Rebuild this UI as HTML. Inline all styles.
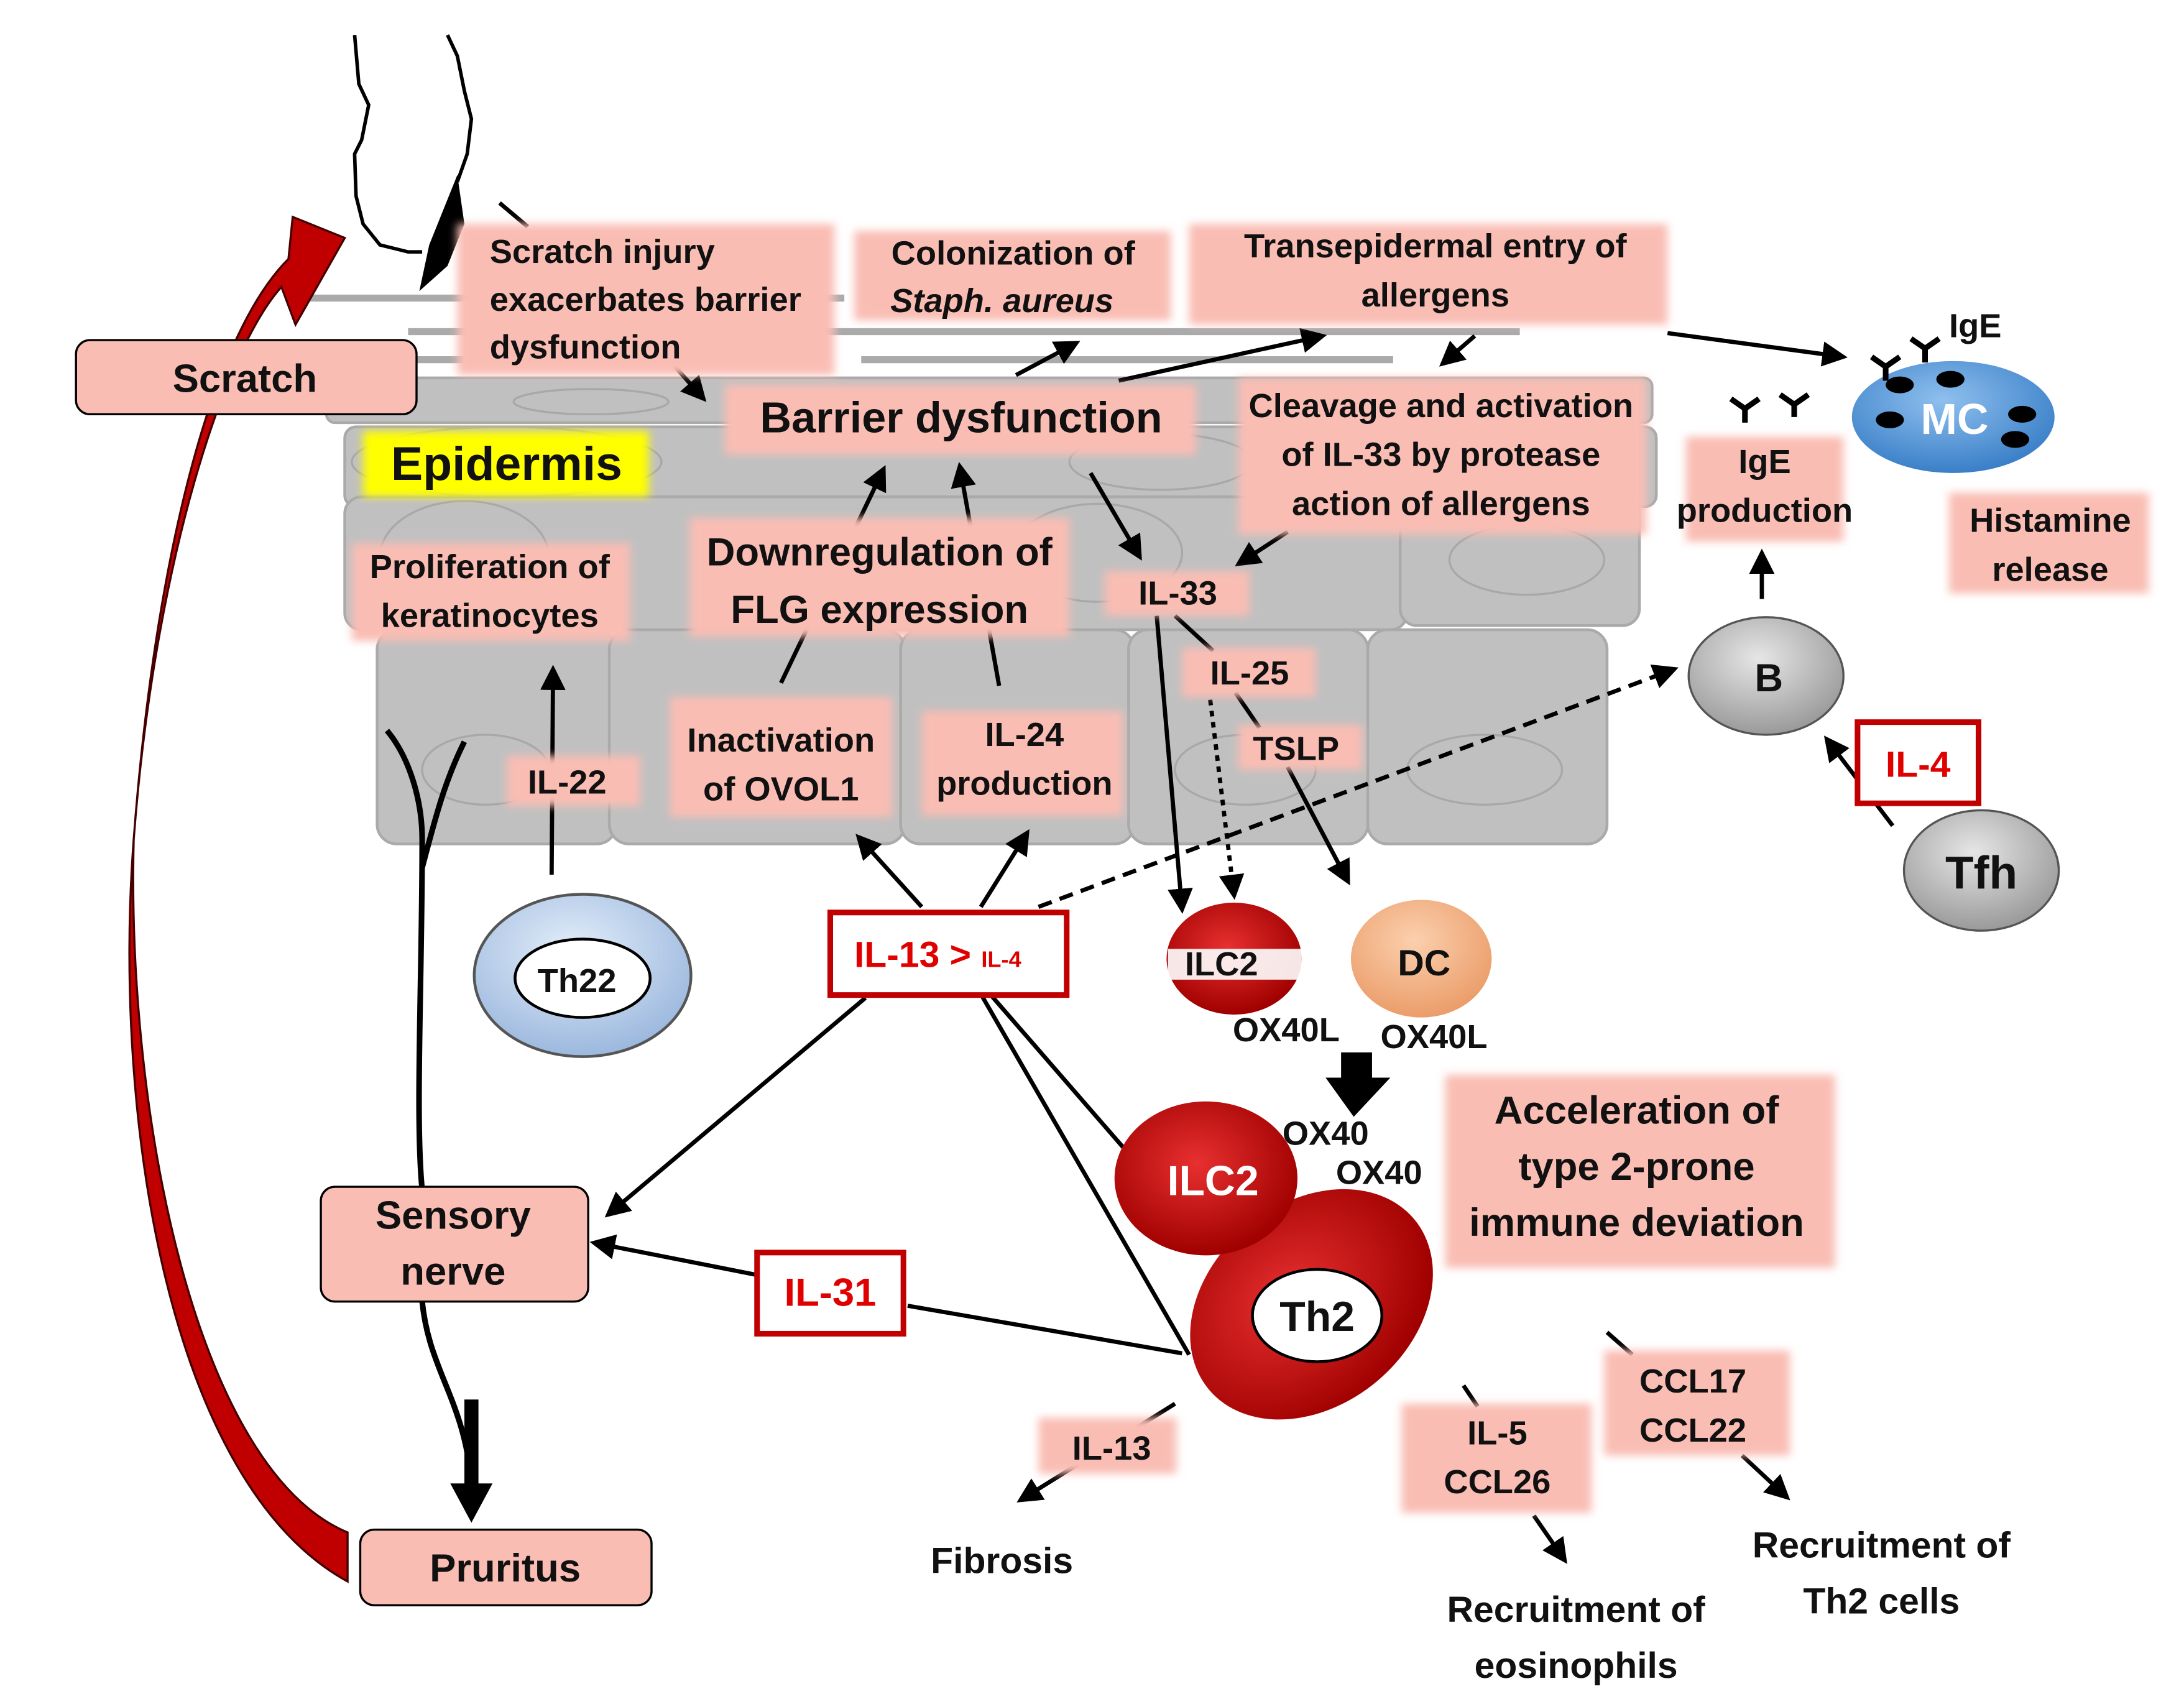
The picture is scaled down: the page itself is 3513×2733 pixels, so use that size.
<!DOCTYPE html>
<html><head><meta charset="utf-8"><style>
html,body{margin:0;padding:0;background:#fff;}
svg{display:block;}
text{font-family:"Liberation Sans Narrow","Liberation Sans",sans-serif;font-weight:bold;fill:#111;}
</style></head><body>
<svg width="3513" height="2733" viewBox="0 0 1552 1214" preserveAspectRatio="none" xmlns="http://www.w3.org/2000/svg">
<defs>
<marker id="ah" markerWidth="6" markerHeight="6" refX="5" refY="3" orient="auto" markerUnits="strokeWidth"><path d="M0,0 L6,3 L0,6 z" fill="#000"/></marker>
<filter id="bl" x="-10%" y="-10%" width="120%" height="120%"><feGaussianBlur stdDeviation="3"/></filter>
<radialGradient id="red" cx="45%" cy="40%" r="60%"><stop offset="0" stop-color="#e83030"/><stop offset="1" stop-color="#a00000"/></radialGradient>
<radialGradient id="gry" cx="45%" cy="35%" r="65%"><stop offset="0" stop-color="#e6e6e6"/><stop offset="1" stop-color="#9a9a9a"/></radialGradient>
<radialGradient id="blu" cx="45%" cy="35%" r="65%"><stop offset="0" stop-color="#8fc0ee"/><stop offset="1" stop-color="#3a7fc8"/></radialGradient>
<radialGradient id="lb" cx="45%" cy="35%" r="65%"><stop offset="0" stop-color="#e3eefa"/><stop offset="1" stop-color="#9cb8de"/></radialGradient>
<radialGradient id="dc" cx="45%" cy="35%" r="65%"><stop offset="0" stop-color="#fbd0ae"/><stop offset="1" stop-color="#eb9d6a"/></radialGradient>
</defs>

<g stroke="#aaa" stroke-width="5">
<line x1="220" y1="213" x2="600" y2="213"/>
<line x1="290" y1="237" x2="1080" y2="237"/>
<line x1="290" y1="257" x2="330" y2="257"/>
<line x1="612" y1="257" x2="990" y2="257"/>
</g>
<g fill="#c0c0c0" stroke="#aaa" stroke-width="2">
<rect x="232" y="270" width="942" height="32" rx="6"/>
<rect x="245" y="305" width="932" height="57" rx="8"/>
<rect x="245" y="355" width="755" height="95" rx="12"/>
<rect x="995" y="355" width="170" height="92" rx="12"/>
<rect x="268" y="450" width="170" height="153" rx="14"/>
<rect x="433" y="450" width="210" height="153" rx="14"/>
<rect x="640" y="450" width="166" height="153" rx="14"/>
<rect x="802" y="450" width="170" height="153" rx="14"/>
<rect x="972" y="450" width="170" height="153" rx="14"/>
</g>
<g fill="none" stroke="#a8a8a8" stroke-width="1.5">
<ellipse cx="420" cy="287" rx="55" ry="9"/>
<ellipse cx="360" cy="330" rx="110" ry="25"/>
<ellipse cx="825" cy="330" rx="65" ry="20"/>
<ellipse cx="330" cy="398" rx="60" ry="40"/>
<ellipse cx="780" cy="395" rx="60" ry="35"/>
<ellipse cx="1085" cy="400" rx="55" ry="25"/>
<ellipse cx="345" cy="550" rx="45" ry="25"/>
<ellipse cx="550" cy="550" rx="60" ry="25"/>
<ellipse cx="885" cy="550" rx="50" ry="25"/>
<ellipse cx="1055" cy="550" rx="55" ry="25"/>
</g>

<path d="M252,25 L255,60 L262,75 L257,100 L252,110 L253,140 L258,160 L270,175 L290,180 L300,180" fill="none" stroke="#000" stroke-width="2.5"/>
<path d="M318,25 L325,40 L330,65 L335,85 L332,110 L325,130" fill="none" stroke="#000" stroke-width="2.5"/>
<path d="M325,125 L330,160 L318,190 L298,208 L305,175 Z" fill="#000"/>
<line x1="355" y1="145" x2="375" y2="162" stroke="#000" stroke-width="3"/>

<path d="M247,1130 C120,1060 80,800 95,600 C110,400 160,250 200,205 L210,232 L245,170 L208,155 L205,185 C150,240 110,400 95,600 C90,800 140,1050 247,1095 Z" fill="#c00000" stroke="#400" stroke-width="1.5"/>

<g fill="none" stroke="#000" stroke-width="4">
<path d="M275,522 C290,540 300,570 300,600 C300,700 295,800 300,850"/>
<path d="M330,530 C315,560 308,590 300,620"/>
<path d="M300,930 C305,980 330,1000 335,1060"/>
</g>
<path d="M330,1000 L340,1000 L340,1060 L350,1060 L335,1088 L320,1060 L330,1060 Z" fill="#000"/>

<!-- arrows (behind label boxes) -->
<g stroke="#000" stroke-width="3" fill="none" marker-end="url(#ah)">
<line x1="478" y1="260" x2="500" y2="285"/>
<line x1="722" y1="268" x2="765" y2="245"/>
<line x1="795" y1="272" x2="940" y2="240"/>
<line x1="1048" y1="240" x2="1025" y2="260"/>
<line x1="1185" y1="238" x2="1310" y2="255"/>
<line x1="915" y1="380" x2="880" y2="403"/>
<line x1="775" y1="338" x2="810" y2="398"/>
<line x1="555" y1="488" x2="628" y2="335"/>
<line x1="710" y1="490" x2="682" y2="333"/>
<line x1="392" y1="625" x2="393" y2="478"/>
<line x1="655" y1="648" x2="610" y2="598"/>
<line x1="697" y1="648" x2="730" y2="595"/>
<line x1="822" y1="440" x2="840" y2="650"/>
<line x1="835" y1="440" x2="862" y2="465" marker-end="none"/>
<line x1="860" y1="500" x2="877" y2="640" stroke-dasharray="4,4"/>
<line x1="878" y1="495" x2="895" y2="520" marker-end="none"/>
<line x1="915" y1="548" x2="958" y2="630"/>
<line x1="738" y1="648" x2="1190" y2="478" stroke-dasharray="10,6"/>
<line x1="1252" y1="428" x2="1252" y2="395"/>
<line x1="1345" y1="590" x2="1298" y2="528"/>
<line x1="615" y1="713" x2="432" y2="868"/>
<line x1="840" y1="967" x2="645" y2="933" marker-end="none"/>
<line x1="538" y1="911" x2="422" y2="888"/>
<line x1="835" y1="1003" x2="725" y2="1072"/>
<line x1="1040" y1="990" x2="1050" y2="1005" marker-end="none"/>
<line x1="1090" y1="1083" x2="1112" y2="1115"/>
<line x1="1142" y1="952" x2="1160" y2="968" marker-end="none"/>
<line x1="1238" y1="1040" x2="1270" y2="1070"/>
</g>
<g stroke="#000" stroke-width="3" fill="none">
<line x1="698" y1="712" x2="845" y2="968"/>
<line x1="705" y1="712" x2="800" y2="822"/>
</g>
<path d="M953,752 L975,752 L975,770 L988,770 L962,798 L942,770 L953,770 Z" fill="#000"/>

<g fill="#f9bdb4" filter="url(#bl)">
<rect x="325" y="160" width="268" height="108"/>
<rect x="607" y="165" width="225" height="64"/>
<rect x="845" y="160" width="340" height="72"/>
<rect x="515" y="275" width="335" height="50"/>
<rect x="880" y="270" width="290" height="112"/>
<rect x="490" y="370" width="270" height="85"/>
<rect x="250" y="388" width="198" height="70"/>
<rect x="785" y="408" width="103" height="32"/>
<rect x="840" y="463" width="95" height="35"/>
<rect x="880" y="518" width="88" height="32"/>
<rect x="360" y="540" width="95" height="36"/>
<rect x="476" y="498" width="158" height="86"/>
<rect x="655" y="508" width="143" height="75"/>
<rect x="1198" y="312" width="112" height="75"/>
<rect x="1385" y="352" width="142" height="72"/>
<rect x="1027" y="768" width="277" height="138"/>
<rect x="738" y="1013" width="98" height="40"/>
<rect x="996" y="1003" width="135" height="78"/>
<rect x="1140" y="965" width="132" height="75"/>
</g>
<rect x="258" y="308" width="203" height="47" fill="#ffff00" filter="url(#bl)"/>

<rect x="54" y="243" width="242" height="53" rx="10" fill="#f9bdb4" stroke="#000" stroke-width="1.5"/>
<rect x="228" y="848" width="190" height="82" rx="10" fill="#f9bdb4" stroke="#000" stroke-width="1.5"/>
<rect x="256" y="1093" width="207" height="54" rx="10" fill="#f9bdb4" stroke="#000" stroke-width="1.5"/>
<rect x="590" y="652" width="168" height="59" fill="#fff" stroke="#c00000" stroke-width="4"/>
<rect x="538" y="895" width="104" height="58" fill="#fff" stroke="#c00000" stroke-width="4"/>
<rect x="1320" y="516" width="86" height="58" fill="#fff" stroke="#c00000" stroke-width="4"/>

<ellipse cx="414" cy="697" rx="77" ry="58" fill="url(#lb)" stroke="#555" stroke-width="2"/>
<ellipse cx="414" cy="699" rx="48" ry="28" fill="#fff" stroke="#000" stroke-width="2"/>
<ellipse cx="877" cy="685" rx="48" ry="40" fill="url(#red)"/>
<rect x="830" y="678" width="95" height="22" fill="#fff" opacity="0.9"/>
<ellipse cx="1010" cy="685" rx="50" ry="42" fill="url(#dc)"/>
<ellipse cx="932" cy="932" rx="95" ry="72" fill="url(#red)" transform="rotate(-40 932 932)"/>
<ellipse cx="936" cy="940" rx="46" ry="33" fill="#fff" stroke="#000" stroke-width="2"/>
<ellipse cx="857" cy="842" rx="65" ry="55" fill="url(#red)"/>
<ellipse cx="1255" cy="483" rx="55" ry="42" fill="url(#gry)" stroke="#555" stroke-width="1.5"/>
<ellipse cx="1408" cy="622" rx="55" ry="43" fill="url(#gry)" stroke="#555" stroke-width="1.5"/>
<ellipse cx="1388" cy="298" rx="72" ry="40" fill="url(#blu)"/>
<g fill="#000">
<ellipse cx="1350" cy="275" rx="10" ry="6"/><ellipse cx="1386" cy="271" rx="10" ry="6"/>
<ellipse cx="1343" cy="300" rx="10" ry="6"/><ellipse cx="1437" cy="296" rx="10" ry="6"/>
<ellipse cx="1432" cy="314" rx="10" ry="6"/>
</g>
<g stroke="#000" stroke-width="4" fill="none">
<path d="M1230,285 L1240,292 L1250,285 M1240,292 L1240,302"/>
<path d="M1265,282 L1275,289 L1285,282 M1275,289 L1275,298"/>
<path d="M1330,255 L1340,262 L1350,255 M1340,262 L1340,272"/>
<path d="M1358,242 L1368,249 L1378,242 M1368,249 L1368,259"/>
</g>

<g font-size="24">
<text x="348" y="188">Scratch injury</text>
<text x="348" y="222">exacerbates barrier</text>
<text x="348" y="256">dysfunction</text>
<text x="720" y="189" text-anchor="middle">Colonization of</text>
<text x="712" y="223" text-anchor="middle" font-style="italic">Staph. aureus</text>
<text x="1020" y="184" text-anchor="middle">Transepidermal entry of</text>
<text x="1020" y="219" text-anchor="middle">allergens</text>
<text x="1024" y="298" text-anchor="middle">Cleavage and activation</text>
<text x="1024" y="333" text-anchor="middle">of IL-33 by protease</text>
<text x="1024" y="368" text-anchor="middle">action of allergens</text>
<text x="348" y="413" text-anchor="middle">Proliferation of</text>
<text x="348" y="448" text-anchor="middle">keratinocytes</text>
<text x="837" y="432" text-anchor="middle">IL-33</text>
<text x="888" y="489" text-anchor="middle">IL-25</text>
<text x="921" y="543" text-anchor="middle">TSLP</text>
<text x="403" y="567" text-anchor="middle">IL-22</text>
<text x="555" y="537" text-anchor="middle">Inactivation</text>
<text x="555" y="572" text-anchor="middle">of OVOL1</text>
<text x="728" y="533" text-anchor="middle">IL-24</text>
<text x="728" y="568" text-anchor="middle">production</text>
<text x="1254" y="338" text-anchor="middle">IgE</text>
<text x="1254" y="373" text-anchor="middle">production</text>
<text x="1385" y="241">IgE</text>
<text x="1457" y="380" text-anchor="middle">Histamine</text>
<text x="1457" y="415" text-anchor="middle">release</text>
<text x="914" y="744" text-anchor="middle">OX40L</text>
<text x="1019" y="749" text-anchor="middle">OX40L</text>
<text x="942" y="818" text-anchor="middle">OX40</text>
<text x="980" y="846" text-anchor="middle">OX40</text>
<text x="790" y="1043" text-anchor="middle">IL-13</text>
<text x="1064" y="1032" text-anchor="middle">IL-5</text>
<text x="1064" y="1067" text-anchor="middle">CCL26</text>
<text x="1203" y="995" text-anchor="middle">CCL17</text>
<text x="1203" y="1030" text-anchor="middle">CCL22</text>
</g>
<g font-size="28">
<text x="174" y="280" text-anchor="middle">Scratch</text>
<text x="683" y="309" text-anchor="middle" font-size="31">Barrier dysfunction</text>
<text x="360" y="343" text-anchor="middle" font-size="34">Epidermis</text>
<text x="625" y="404" text-anchor="middle">Downregulation of</text>
<text x="625" y="445" text-anchor="middle">FLG expression</text>
<text x="322" y="878" text-anchor="middle">Sensory</text>
<text x="322" y="918" text-anchor="middle">nerve</text>
<text x="359" y="1130" text-anchor="middle">Pruritus</text>
<text x="1163" y="803" text-anchor="middle">Acceleration of</text>
<text x="1163" y="843" text-anchor="middle">type 2-prone</text>
<text x="1163" y="883" text-anchor="middle">immune deviation</text>
<text x="712" y="1124" text-anchor="middle" font-size="26">Fibrosis</text>
<text x="1120" y="1159" text-anchor="middle" font-size="26">Recruitment of</text>
<text x="1120" y="1199" text-anchor="middle" font-size="26">eosinophils</text>
<text x="1337" y="1113" text-anchor="middle" font-size="26">Recruitment of</text>
<text x="1337" y="1153" text-anchor="middle" font-size="26">Th2 cells</text>
<text x="1257" y="494" text-anchor="middle">B</text>
<text x="1408" y="635" text-anchor="middle" font-size="33">Tfh</text>
<text x="1389" y="310" text-anchor="middle" font-size="31" style="fill:#fff">MC</text>
<text x="410" y="709" text-anchor="middle" font-size="24">Th22</text>
<text x="868" y="697" text-anchor="middle" font-size="24">ILC2</text>
<text x="1012" y="697" text-anchor="middle" font-size="26">DC</text>
<text x="862" y="854" text-anchor="middle" font-size="30" style="fill:#fff">ILC2</text>
<text x="936" y="951" text-anchor="middle" font-size="30">Th2</text>
<text x="607" y="691" font-size="26" style="fill:#e00000">IL-13 &gt; <tspan font-size="16">IL-4</tspan></text>
<text x="590" y="933" text-anchor="middle" style="fill:#e00000">IL-31</text>
<text x="1363" y="555" text-anchor="middle" font-size="26" style="fill:#e00000">IL-4</text>
</g>
</svg>
</body></html>
